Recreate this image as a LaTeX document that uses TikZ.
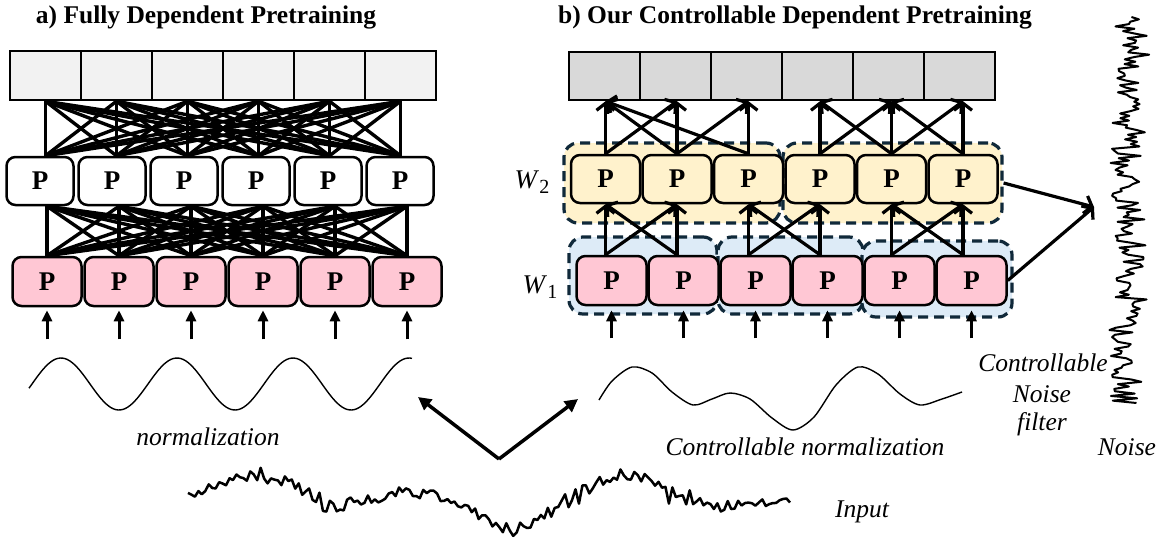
\documentclass[tikz,border=0pt]{standalone}
\usepackage{fontspec}
\setmainfont{Liberation Serif}
\usetikzlibrary{arrows.meta,calc}
\definecolor{pinkf}{HTML}{FFC7D4}
\definecolor{yelf}{HTML}{FFF2CC}
\definecolor{bluef}{HTML}{DDEBF7}
\definecolor{navy}{HTML}{10293A}
\definecolor{barL}{HTML}{F2F2F2}
\definecolor{barR}{HTML}{D9D9D9}
\begin{document}
\begin{tikzpicture}[x=1pt,y=-1pt,
  declare function={R(\u,\a)=max(\u-\a,0);},
  cellL/.style={draw,line width=2.5pt,fill=barL,minimum width=71pt,minimum height=49pt,inner sep=0pt},
  cellR/.style={draw,line width=2.5pt,fill=barR,minimum width=71pt,minimum height=48pt,inner sep=0pt},
  pbox/.style={draw,line width=2.5pt,rounded corners=9pt,minimum width=68pt,minimum height=48pt,inner sep=0pt,font=\fontsize{27}{27}\selectfont\bfseries},
  grp/.style={draw=navy,line width=3.2pt,dash pattern=on 10pt off 6pt,rounded corners=14pt,inner sep=0pt},
  conn/.style={line width=3.4pt},
  uparr/.style={line width=3.2pt,-{Straight Barb[length=7pt,width=18pt]}},
  inarr/.style={line width=3pt,-{Triangle[length=11pt,width=10pt]}},
  varr/.style={line width=3.5pt,-{Triangle[length=13pt,width=13pt]}},
  lbl/.style={font=\fontsize{25.5}{30}\selectfont\itshape,inner sep=0pt},
  ttl/.style={font=\fontsize{25.5}{30}\selectfont\bfseries,inner sep=0pt}
]
\useasboundingbox (0,0) rectangle (1165,541);
\fill[white] (0,0) rectangle (1165,541);

% titles
\node[ttl] (ta) at (206,17) {a) Fully Dependent Pretraining};
\node[ttl] (tb) at (795,17) {b) Our Controllable Dependent Pretraining};

% ---------- left panel ----------
\foreach \i in {1,...,6}{
  \pgfmathsetmacro\cx{45.5+71*(\i-1)}
  \node[cellL] (lc\i) at (\cx,75.5) {};
  \pgfmathsetmacro\mx{40+72*(\i-1)}
  \node[pbox,fill=white,minimum width=67pt] (lm\i) at (\mx,181) {P};
  \pgfmathsetmacro\px{47+72*(\i-1)}
  \node[pbox,fill=pinkf,minimum width=69pt,minimum height=49pt] (lp\i) at (\px,281.5) {P};
  \coordinate (li\i) at ($(lp\i.south)+(0,32)$);
}
\foreach \i in {1,...,6}{
  \foreach \j in {1,...,6}{
    \draw[conn] (lc\i.south) -- (lc\j.south |- lm\j.north);
    \draw[conn] (lp\i.north |- lm\i.south) -- (lp\j.north);
  }
  \draw[inarr,shorten >=3pt] (li\i) -- (lp\i.south);
}

% ---------- right panel ----------
\node[grp,fill=yelf,minimum width=216pt,minimum height=80pt] (G1) at (672,183) {};
\node[grp,fill=yelf,minimum width=219pt,minimum height=80pt] (G2) at (892.5,183) {};
\node[grp,fill=bluef,minimum width=148pt,minimum height=77pt] (B1) at (643,275.5) {};
\node[grp,fill=bluef,minimum width=145pt,minimum height=77pt] (B2) at (790.5,275.5) {};
\node[grp,fill=bluef,minimum width=150pt,minimum height=76pt] (B3) at (937,279) {};

\foreach \i in {1,...,6}{
  \pgfmathsetmacro\cx{604.5+71*(\i-1)}
  \node[cellR] (rc\i) at (\cx,76) {};
  \pgfmathsetmacro\yx{605.5+71.5*(\i-1)}
  \node[pbox,fill=yelf,minimum width=69pt] (ry\i) at (\yx,179) {P};
  \pgfmathsetmacro\px{611.5+72*(\i-1)}
  \node[pbox,fill=pinkf,minimum width=70pt,minimum height=49pt] (rp\i) at (\px,280.5) {P};
  \coordinate (ri\i) at ($(rp\i.south)+(0,32)$);
}
\foreach \i in {1,...,6}{
  \draw[inarr,shorten >=4pt] (ri\i) -- (rp\i.south);
}
% yellow -> top bar
\foreach \a/\b in {1/1,1/2,2/1,2/2,2/3,3/1,3/3,4/4,4/5,5/4,5/5,5/6,6/5,6/6}{
  \draw[uparr] (ry\a.north) -- (ry\b.north |- rc1.south);
}
% pink -> yellow
\foreach \a/\b in {1/1,1/2,2/1,2/2,3/3,3/4,4/3,4/4,5/5,5/6,6/5,6/6}{
  \draw[uparr] (ry\a.south |- rp\a.north) -- (ry\b.south);
}

\node[inner sep=0pt,font=\fontsize{27}{30}\selectfont] (w2) at (532,182) {\textit{W}\raisebox{-5pt}{\fontsize{20}{20}\selectfont 2}};
\node[inner sep=0pt,font=\fontsize{27}{30}\selectfont] (w1) at (540,287) {\textit{W}\raisebox{-5pt}{\fontsize{20}{20}\selectfont 1}};

% noise
\coordinate (nz) at (1094,207);
\draw[uparr] (G2.east) -- (nz);
\draw[uparr] (rp6.east) -- (nz);
\pgfmathsetseed{11}
\draw[line width=2pt,line join=round] plot[domain=17:403,samples=165,variable=\t] ({1128+3*sin(1.7*\t)+15*rand+16*rand*rand*rand},{\t});

% waves
\draw[line width=1.4pt] plot[domain=29:412,samples=160,variable=\t] ({\t},{384-26*sin((\t-32)*3.10345)});
\draw[line width=1.4pt] plot[smooth] coordinates {(599,400) (612,381) (632,367) (652,373) (672,392) (693,405) (712,399) (730,393) (750,399) (772,418) (793,430) (814,417) (836,385) (858,367) (878,374) (900,394) (920,405) (942,399) (962,392)};

% input signal
\pgfmathsetseed{5}
\draw[line width=2.5pt,line join=round] plot[domain=188:790,samples=175,variable=\t]
 ({\t},{497-0.371*(\t-188)+0.542*R(\t,250)+0.504*R(\t,285)-0.775*R(\t,325)-0.3*R(\t,365)+0.486*R(\t,395)+0.364*R(\t,430)-0.028*R(\t,470)-0.978*R(\t,515)-0.048*R(\t,560)+0.678*R(\t,613)+0.409*R(\t,640)-0.454*R(\t,700)-0.102*R(\t,735)+6.5*rand+9*rand*rand*rand});

% V arrows
\coordinate (vb) at (499,459);
\coordinate (va) at (418,397);
\coordinate (vc) at (578,399);
\draw[varr] (vb) -- (va);
\draw[varr] (vb) -- (vc);

% labels
\node[lbl] (nl) at (208,437) {normalization};
\node[lbl] (cnl) at (805,447) {Controllable normalization};
\node[lbl] (inp) at (862,512) {Input};
\node[lbl] (cn1) at (1043,363) {Controllable};
\node[lbl] (cn2) at (1042,394) {Noise};
\node[lbl] (cn3) at (1042,424) {filter};
\node[lbl] (nsl) at (1127,447) {Noise};
\end{tikzpicture}
\end{document}
